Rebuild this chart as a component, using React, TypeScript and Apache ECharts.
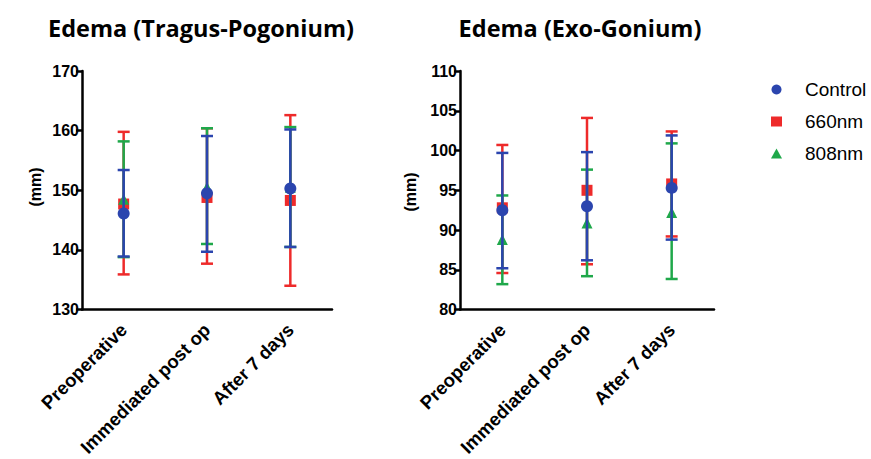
import React, { useEffect, useRef } from "react";
import * as echarts from "echarts";

const categories = ["Preoperative", "Immediated post op", "After 7 days"];
const seriesNames = ["Control", "660nm", "808nm"];
const yAxisTitle = "(mm)";

// Edema (Tragus-Pogonium)
const tpControlMean = [146.1, 149.5, 150.3];
const tpControlLow = [138.9, 139.7, 140.5];
const tpControlHigh = [153.4, 159.1, 160.2];
const tp660Mean = [147.7, 148.8, 148.3];
const tp660Low = [135.9, 137.7, 134.0];
const tp660High = [159.8, 160.4, 162.6];
const tp808Mean = [148.5, 150.5, 150.5];
const tp808Low = [138.8, 141.0, 140.5];
const tp808High = [158.2, 160.4, 160.6];

// Edema (Exo-Gonium)
const egControlMean = [92.5, 93.0, 95.3];
const egControlLow = [85.2, 86.2, 88.8];
const egControlHigh = [99.7, 99.8, 101.9];
const eg660Mean = [92.8, 95.0, 95.8];
const eg660Low = [84.6, 85.7, 89.2];
const eg660High = [100.7, 104.1, 102.4];
const eg808Mean = [88.8, 90.9, 92.2];
const eg808Low = [83.2, 84.2, 83.85];
const eg808High = [94.35, 97.6, 100.9];

const BLUE = "#2B45AE";
const RED = "#EE2A2A";
const GREEN = "#1FA84A";

const tickFont = "'Liberation Sans', Arial, sans-serif";
const narrowFont = "'Liberation Sans Narrow', 'Arial Narrow', 'Liberation Sans', Arial, sans-serif";

function errSeries(name: string, color: string, low: number[], high: number[], axis: number, z: number) {
  return {
    type: "custom",
    name,
    xAxisIndex: axis,
    yAxisIndex: axis,
    z,
    silent: true,
    encode: { x: 0, y: [1, 2] },
    data: low.map((l, i) => [i, l, high[i]]),
    renderItem: (params: any, api: any) => {
      const x = api.value(0);
      const lo = api.coord([x, api.value(1)]);
      const hi = api.coord([x, api.value(2)]);
      const hw = 6;
      const style = { stroke: color, lineWidth: 2.5 };
      return {
        type: "group",
        children: [
          { type: "line", shape: { x1: lo[0], y1: lo[1], x2: hi[0], y2: hi[1] }, style },
          { type: "line", shape: { x1: lo[0] - hw, y1: lo[1], x2: lo[0] + hw, y2: lo[1] }, style },
          { type: "line", shape: { x1: hi[0] - hw, y1: hi[1], x2: hi[0] + hw, y2: hi[1] }, style },
        ],
      };
    },
  };
}

function markSeries(name: string, color: string, mean: number[], axis: number, symbol: string, size: number, z: number) {
  return {
    type: "scatter",
    name,
    xAxisIndex: axis,
    yAxisIndex: axis,
    z,
    symbol,
    symbolSize: size,
    itemStyle: { color, opacity: 1 },
    data: mean,
  };
}

function makeXAxis(gridIndex: number) {
  return {
    type: "category",
    gridIndex,
    data: categories,
    boundaryGap: true,
    axisLine: { lineStyle: { color: "#000", width: 2.5 } },
    axisTick: { alignWithLabel: true, length: 6, lineStyle: { color: "#000", width: 2.5 } },
    axisLabel: {
      rotate: 45,
      margin: 17,
      color: "#000",
      fontFamily: tickFont,
      fontWeight: "bold",
      fontSize: 18.5,
      interval: 0,
    },
    splitLine: { show: false },
  };
}

function makeYAxis(gridIndex: number, min: number, max: number, interval: number) {
  return {
    type: "value",
    gridIndex,
    min,
    max,
    interval,
    axisLine: { show: true, lineStyle: { color: "#000", width: 2.5 } },
    axisTick: { show: true, length: 6, lineStyle: { color: "#000", width: 2.5 } },
    axisLabel: { color: "#000", fontFamily: narrowFont, fontWeight: "bold", fontSize: 16, margin: 3 },
    splitLine: { show: false },
  };
}

function axisTitle(x: number, y: number) {
  return {
    type: "text",
    x,
    y,
    rotation: Math.PI / 2,
    style: {
      text: yAxisTitle,
      fontFamily: tickFont,
      fontWeight: "bold",
      fontSize: 16,
      fill: "#000",
      align: "center",
      verticalAlign: "middle",
    },
  };
}

export default function App() {
  const ref = useRef<HTMLDivElement>(null);
  useEffect(() => {
    if (!ref.current) return;
    const chart = echarts.init(ref.current, undefined, { renderer: "svg" });
    chart.setOption({
      animation: false,
      backgroundColor: "#fff",
      title: [
        {
          text: "Edema (Tragus-Pogonium)",
          left: 196,
          top: 11,
          textAlign: "center",
          textStyle: { fontFamily: "'Open Sans', sans-serif", fontWeight: "bold", fontSize: 23.5, color: "#000" },
        },
        {
          text: "Edema (Exo-Gonium)",
          left: 575,
          top: 11,
          textAlign: "center",
          textStyle: { fontFamily: "'Open Sans', sans-serif", fontWeight: "bold", fontSize: 23.5, color: "#000" },
        },
      ],
      graphic: [axisTitle(35, 187), axisTitle(410, 192)],
      legend: {
        data: [
          { name: "Control", icon: "circle" },
          { name: "660nm", icon: "rect" },
          { name: "808nm", icon: "triangle" },
        ],
        orient: "vertical",
        left: 766,
        top: 75,
        itemWidth: 11,
        itemHeight: 10,
        itemGap: 13,
        textStyle: { fontFamily: tickFont, fontSize: 19, color: "#000", padding: [0, 0, 0, 18] },
        selectedMode: false,
      },
      grid: [
        { left: 82, top: 71, width: 250, height: 242 },
        { left: 460, top: 71, width: 254, height: 241 },
      ],
      xAxis: [makeXAxis(0), makeXAxis(1)],
      yAxis: [makeYAxis(0, 130, 170, 10), makeYAxis(1, 80, 110, 5)],
      series: [
        errSeries("e660a", RED, tp660Low, tp660High, 0, 2),
        markSeries(seriesNames[1], RED, tp660Mean, 0, "rect", 11, 3),
        errSeries("e808a", GREEN, tp808Low, tp808High, 0, 4),
        markSeries(seriesNames[2], GREEN, tp808Mean, 0, "triangle", 11, 5),
        errSeries("eCa", BLUE, tpControlLow, tpControlHigh, 0, 6),
        markSeries(seriesNames[0], BLUE, tpControlMean, 0, "circle", 12, 7),
        errSeries("e660b", RED, eg660Low, eg660High, 1, 2),
        markSeries(seriesNames[1], RED, eg660Mean, 1, "rect", 11, 3),
        errSeries("e808b", GREEN, eg808Low, eg808High, 1, 4),
        markSeries(seriesNames[2], GREEN, eg808Mean, 1, "triangle", 11, 5),
        errSeries("eCb", BLUE, egControlLow, egControlHigh, 1, 6),
        markSeries(seriesNames[0], BLUE, egControlMean, 1, "circle", 12, 7),
      ],
    });
    return () => chart.dispose();
  }, []);
  return (
    <div
      ref={ref}
      style={{ position: "fixed", left: 0, top: 0, width: 871, height: 459, background: "#fff" }}
    />
  );
}
